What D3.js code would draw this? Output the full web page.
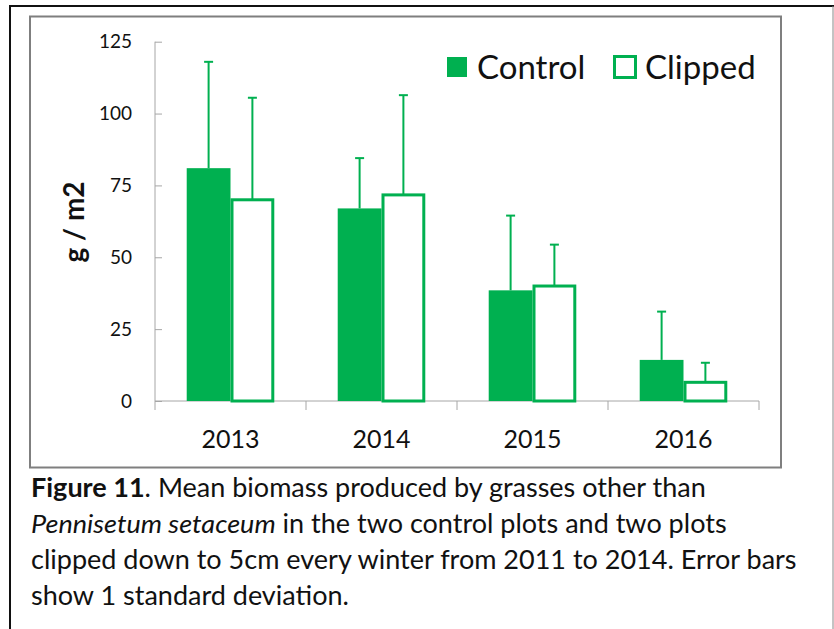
<!DOCTYPE html>
<html>
<head>
<meta charset="utf-8">
<script src="https://cdn.jsdelivr.net/npm/d3@7"></script>
<style>
  body { margin: 0; background: #fff; }
  svg { display: block; font-family: Lato, "Open Sans", sans-serif; }
</style>
</head>
<body>
<svg width="834" height="629"></svg>
<script>
// values
var years = ['2013', '2014', '2015', '2016'];
var control = [81, 67, 38.5, 14.3];
var controlSd = [37, 17.5, 26, 16.8];
var clipped = [70, 71.7, 40, 6.5];
var clippedSd = [35.5, 34.7, 14.4, 6.8];
var yTicks = [0, 25, 50, 75, 100, 125];
var seriesNames = ['Control', 'Clipped'];

var green = '#00b050';
var svg = d3.select('svg');

// outer page frame
svg.append('line').attr('x1', 10).attr('y1', 6).attr('x2', 834).attr('y2', 6)
  .attr('stroke', '#111').attr('stroke-width', 2);
svg.append('line').attr('x1', 10).attr('y1', 5).attr('x2', 10).attr('y2', 629)
  .attr('stroke', '#111').attr('stroke-width', 2);
svg.append('line').attr('x1', 833).attr('y1', 6).attr('x2', 833).attr('y2', 629)
  .attr('stroke', '#888').attr('stroke-width', 1);

// chart frame
svg.append('rect').attr('x', 30).attr('y', 16.5).attr('width', 751).attr('height', 451)
  .attr('fill', 'none').attr('stroke', '#7f7f7f').attr('stroke-width', 2);

var x = d3.scaleBand().domain(years).range([155, 759]).padding(0);
var y = d3.scaleLinear().domain([0, 125]).range([401, 41.7]);
var barW = x.bandwidth() * 0.29;

// y axis: ticks drawn inside
var yAxis = svg.append('g').attr('transform', 'translate(155,0)')
  .call(d3.axisRight(y).tickValues(yTicks).tickSize(7).tickFormat(''));
yAxis.select('.domain').remove();
yAxis.selectAll('line').attr('stroke', '#a6a6a6');
svg.append('line').attr('x1', 155).attr('x2', 155).attr('y1', y(125)).attr('y2', 410)
  .attr('stroke', '#a6a6a6');
svg.selectAll('.ylab').data(yTicks).enter().append('text')
  .attr('class', 'ylab')
  .attr('x', 132).attr('y', function(d) { return y(d); })
  .attr('dy', '0.35em').attr('text-anchor', 'end')
  .attr('font-size', 19).attr('fill', '#111')
  .text(function(d) { return d; });

// x axis
svg.append('line').attr('x1', 155).attr('x2', 759).attr('y1', y(0)).attr('y2', y(0))
  .attr('stroke', '#a6a6a6');
svg.selectAll('.xtick').data(years).enter().append('line')
  .attr('x1', function(d) { return x(d) + x.step(); })
  .attr('x2', function(d) { return x(d) + x.step(); })
  .attr('y1', y(0)).attr('y2', 410).attr('stroke', '#a6a6a6');
svg.selectAll('.xlab').data(years).enter().append('text')
  .attr('x', function(d) { return x(d) + x.bandwidth() / 2; })
  .attr('y', 448).attr('text-anchor', 'middle')
  .attr('font-size', 25).attr('fill', '#111')
  .text(function(d) { return d; });

// y title
svg.append('text')
  .attr('transform', 'translate(84,222) rotate(-90)')
  .attr('text-anchor', 'middle').attr('font-weight', 'bold')
  .attr('font-size', 28).attr('fill', '#111')
  .text('g / m2');

// bars
var mid = function(d) { return x(d) + x.bandwidth() / 2; };

svg.selectAll('.ctl').data(years).enter().append('rect')
  .attr('x', function(d) { return mid(d) - barW; })
  .attr('y', function(d, i) { return y(control[i]); })
  .attr('width', barW)
  .attr('height', function(d, i) { return y(0) - y(control[i]); })
  .attr('fill', green);

svg.selectAll('.clp').data(years).enter().append('rect')
  .attr('x', function(d) { return mid(d) + 1.5; })
  .attr('y', function(d, i) { return y(clipped[i]); })
  .attr('width', barW - 3)
  .attr('height', function(d, i) { return y(0) - y(clipped[i]); })
  .attr('fill', '#fff').attr('stroke', green).attr('stroke-width', 3);

// error bars (upper only)
function errorBars(vals, sds, off) {
  var g = svg.append('g').attr('stroke', green).attr('stroke-width', 2);
  years.forEach(function(d, i) {
    var cx = mid(d) + off;
    var top = y(vals[i] + sds[i]);
    g.append('line').attr('x1', cx).attr('x2', cx).attr('y1', y(vals[i])).attr('y2', top);
    g.append('line').attr('x1', cx - 4.5).attr('x2', cx + 4.5).attr('y1', top).attr('y2', top);
  });
}
errorBars(control, controlSd, -barW / 2);
errorBars(clipped, clippedSd, barW / 2);

// legend
svg.append('rect').attr('x', 447).attr('y', 57).attr('width', 20).attr('height', 20).attr('fill', green);
svg.append('text').attr('x', 477).attr('y', 79).attr('font-size', 33).attr('fill', '#111').text(seriesNames[0]);
svg.append('rect').attr('x', 614.5).attr('y', 56.5).attr('width', 21).attr('height', 21)
  .attr('fill', '#fff').attr('stroke', green).attr('stroke-width', 3);
svg.append('text').attr('x', 645).attr('y', 79).attr('font-size', 33).attr('fill', '#111').text(seriesNames[1]);

// caption
var cap = svg.append('g').attr('fill', '#111').attr('font-size', 26);
var l1 = cap.append('text').attr('y', 497);
l1.append('tspan').attr('font-weight', 'bold').text('Figure 11');
l1.append('tspan').text('. Mean biomass produced by grasses other than');
var l2 = cap.append('text').attr('y', 533);
l2.append('tspan').attr('font-style', 'italic').text('Pennisetum setaceum');
l2.append('tspan').text(' in the two control plots and two plots');
var l3 = cap.append('text').attr('y', 569)
  .text('clipped down to 5cm every winter from 2011 to 2014. Error bars');
cap.append('text').attr('y', 605)
  .text('show 1 standard deviation.');

// squeeze horizontally so the long line spans as in the figure
var k = 766 / l3.node().getComputedTextLength();
cap.attr('transform', 'translate(31,0) scale(' + k + ',1)');
</script>
</body>
</html>
